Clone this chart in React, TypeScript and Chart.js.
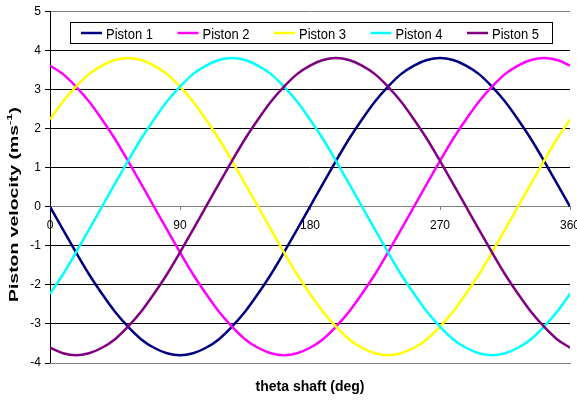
import React, { useEffect, useRef } from "react";
import { Chart, registerables } from "chart.js";

Chart.register(...registerables);

const THETA = [0, 9, 18, 27, 36, 45, 54, 63, 72, 81, 90, 99, 108, 117, 126, 135, 144, 153, 162, 171, 180, 189, 198, 207, 216, 225, 234, 243, 252, 261, 270, 279, 288, 297, 306, 315, 324, 333, 342, 351, 360];

const P1 = [0, -0.59, -1.17, -1.73, -2.23, -2.69, -3.07, -3.39, -3.61, -3.75, -3.8, -3.75, -3.61, -3.39, -3.07, -2.69, -2.23, -1.73, -1.17, -0.59, 0, 0.59, 1.17, 1.73, 2.23, 2.69, 3.07, 3.39, 3.61, 3.75, 3.8, 3.75, 3.61, 3.39, 3.07, 2.69, 2.23, 1.73, 1.17, 0.59, 0];
const P2 = [3.61, 3.39, 3.07, 2.69, 2.23, 1.73, 1.17, 0.59, 0, -0.59, -1.17, -1.73, -2.23, -2.69, -3.07, -3.39, -3.61, -3.75, -3.8, -3.75, -3.61, -3.39, -3.07, -2.69, -2.23, -1.73, -1.17, -0.59, 0, 0.59, 1.17, 1.73, 2.23, 2.69, 3.07, 3.39, 3.61, 3.75, 3.8, 3.75, 3.61];
const P3 = [2.23, 2.69, 3.07, 3.39, 3.61, 3.75, 3.8, 3.75, 3.61, 3.39, 3.07, 2.69, 2.23, 1.73, 1.17, 0.59, 0, -0.59, -1.17, -1.73, -2.23, -2.69, -3.07, -3.39, -3.61, -3.75, -3.8, -3.75, -3.61, -3.39, -3.07, -2.69, -2.23, -1.73, -1.17, -0.59, 0, 0.59, 1.17, 1.73, 2.23];
const P4 = [-2.23, -1.73, -1.17, -0.59, 0, 0.59, 1.17, 1.73, 2.23, 2.69, 3.07, 3.39, 3.61, 3.75, 3.8, 3.75, 3.61, 3.39, 3.07, 2.69, 2.23, 1.73, 1.17, 0.59, 0, -0.59, -1.17, -1.73, -2.23, -2.69, -3.07, -3.39, -3.61, -3.75, -3.8, -3.75, -3.61, -3.39, -3.07, -2.69, -2.23];
const P5 = [-3.61, -3.75, -3.8, -3.75, -3.61, -3.39, -3.07, -2.69, -2.23, -1.73, -1.17, -0.59, 0, 0.59, 1.17, 1.73, 2.23, 2.69, 3.07, 3.39, 3.61, 3.75, 3.8, 3.75, 3.61, 3.39, 3.07, 2.69, 2.23, 1.73, 1.17, 0.59, 0, -0.59, -1.17, -1.73, -2.23, -2.69, -3.07, -3.39, -3.61];

const SERIES_LABELS = ["Piston 1", "Piston 2", "Piston 3", "Piston 4", "Piston 5"];
const SERIES_VALUES = [P1, P2, P3, P4, P5];
const SERIES_COLORS = ["#000080", "#FF00FF", "#FFFF00", "#00FFFF", "#800080"];

const X_TICKS = [0, 90, 180, 270, 360];
const Y_TICKS = [-4, -3, -2, -1, 0, 1, 2, 3, 4, 5];

const X_TITLE = "theta shaft (deg)";
const Y_TITLE_MAIN = "Piston velocity (ms";
const Y_TITLE_SUP = "-1";
const Y_TITLE_END = ")";

const FONT = "Arial, 'Liberation Sans', sans-serif";

const overlayPlugin = {
  id: "overlay",
  afterDraw(chart: any) {
    const ctx = chart.ctx as CanvasRenderingContext2D;
    // Legend box
    ctx.save();
    const lx = 70.5, ly = 22.5, lw = 482, lh = 21;
    ctx.fillStyle = "#fff";
    ctx.fillRect(lx, ly, lw, lh);
    ctx.strokeStyle = "#000";
    ctx.lineWidth = 1;
    ctx.strokeRect(lx, ly, lw, lh);
    chart.data.datasets.forEach((ds: any, i: number) => {
      const x0 = 81 + i * 96.5;
      const yc = 33;
      ctx.strokeStyle = ds.borderColor;
      ctx.lineWidth = 2.5;
      ctx.beginPath();
      ctx.moveTo(x0, yc);
      ctx.lineTo(x0 + 21, yc);
      ctx.stroke();
      ctx.save();
      ctx.fillStyle = "#000";
      ctx.font = `13px ${FONT}`;
      ctx.textAlign = "left";
      ctx.textBaseline = "alphabetic";
      ctx.translate(x0 + 25, 39);
      ctx.scale(1, 1.12);
      ctx.fillText(ds.label, 0, 0);
      ctx.restore();
    });
    ctx.restore();

    // Y axis title (stretched along its reading direction)
    ctx.save();
    const fs = 12;
    const mainFont = `bold ${fs}px ${FONT}`;
    const supFont = `bold ${Math.round(fs * 0.7)}px ${FONT}`;
    ctx.font = mainFont;
    const w1 = ctx.measureText(Y_TITLE_MAIN).width;
    const w3 = ctx.measureText(Y_TITLE_END).width;
    ctx.font = supFont;
    const w2 = ctx.measureText(Y_TITLE_SUP).width;
    const total = w1 + w2 + w3;
    const targetLen = 195;
    const sx = targetLen / total;
    ctx.translate(17.5, 204.5);
    ctx.rotate(-Math.PI / 2);
    ctx.scale(sx, 1);
    ctx.fillStyle = "#000";
    ctx.textAlign = "left";
    ctx.textBaseline = "alphabetic";
    let cx = -total / 2;
    ctx.font = mainFont;
    ctx.fillText(Y_TITLE_MAIN, cx, 0);
    cx += w1;
    ctx.font = supFont;
    ctx.fillText(Y_TITLE_SUP, cx, -fs * 0.42);
    cx += w2;
    ctx.font = mainFont;
    ctx.fillText(Y_TITLE_END, cx, 0);
    ctx.restore();
  },
};

export default function App() {
  const ref = useRef<HTMLCanvasElement | null>(null);
  useEffect(() => {
    if (!ref.current) return;
    const chart = new Chart(ref.current, {
      type: "line",
      data: {
        datasets: SERIES_LABELS.map((label, i) => ({
          label,
          data: THETA.map((t, j) => ({ x: t, y: SERIES_VALUES[i][j] })),
          borderColor: SERIES_COLORS[i],
          backgroundColor: SERIES_COLORS[i],
          borderWidth: 2.5,
          pointRadius: 0,
          fill: false,
          cubicInterpolationMode: "monotone" as const,
          order: SERIES_LABELS.length - i,
          xAxisID: "x",
          yAxisID: "y",
        })),
      },
      options: {
        animation: false,
        responsive: true,
        maintainAspectRatio: false,
        layout: { padding: { top: 11, right: 7, bottom: 0, left: 0 } },
        plugins: { legend: { display: false }, tooltip: { enabled: false } },
        scales: {
          y: {
            type: "linear",
            position: "left",
            min: -4,
            max: 5,
            afterBuildTicks: (s: any) => {
              s.ticks = Y_TICKS.map((v) => ({ value: v }));
            },
            afterFit: (s: any) => {
              s.width = 50;
            },
            ticks: {
              font: { family: FONT, size: 12 },
              color: "#000",
              padding: 4,
            },
            grid: {
              color: (c: any) =>
                c.tick && (c.tick.value === 0 || c.tick.value === 5 || c.tick.value === -4) ? "#808080" : "#000",
              tickColor: "#000",
              tickLength: 5,
              lineWidth: 1,
            },
            border: { display: true, color: "#000", width: 1 },
          },
          x: {
            type: "linear",
            position: { y: 0 } as any,
            min: 0,
            max: 360,
            afterBuildTicks: (s: any) => {
              s.ticks = X_TICKS.map((v) => ({ value: v }));
            },
            afterFit: (s: any) => {
              s.paddingLeft = 0;
              s.paddingRight = 0;
            },
            ticks: {
              font: { family: FONT, size: 12 },
              color: "#000",
              padding: 9,
              maxRotation: 0,
              autoSkip: false,
            },
            grid: { drawOnChartArea: false, drawTicks: true, tickLength: 3, color: "#808080" },
            border: { display: true, color: "#808080", width: 1 },
          },
          x2: {
            type: "linear",
            position: "bottom",
            min: 0,
            max: 360,
            ticks: { display: false },
            grid: { display: false },
            border: { display: true, color: "#808080", width: 1 },
            afterFit: (s: any) => {
              s.height = 37;
              s.paddingLeft = 0;
              s.paddingRight = 0;
            },
            title: {
              display: true,
              text: X_TITLE,
              color: "#000",
              font: { family: FONT, size: 14, weight: "bold" },
              padding: { top: 0, bottom: 4 },
            },
          },
        },
      },
      plugins: [overlayPlugin],
    } as any);
    return () => chart.destroy();
  }, []);
  return (
    <div style={{ position: "absolute", left: 0, top: 0, width: 577, height: 400, background: "#fff" }}>
      <canvas ref={ref} />
    </div>
  );
}
